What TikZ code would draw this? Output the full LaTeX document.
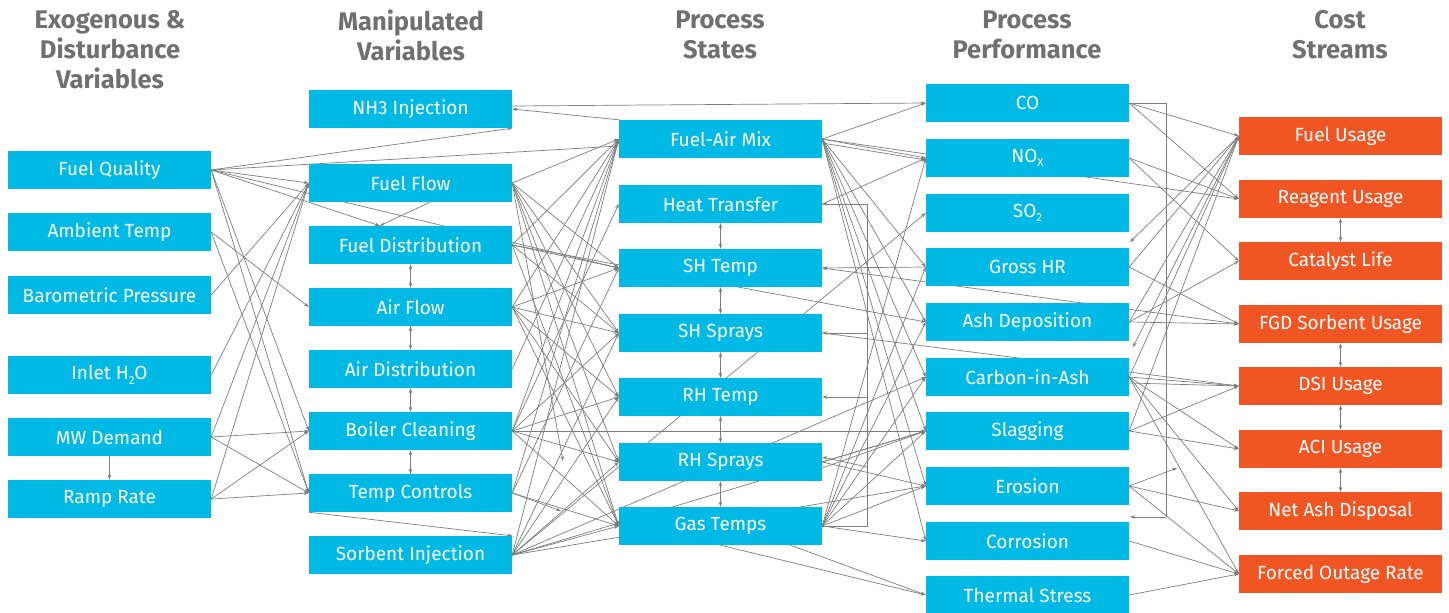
\documentclass[tikz,border=0pt]{standalone}
\usepackage{fontspec}
\setmainfont{Fira Sans}
\usetikzlibrary{arrows.meta,calc}
\definecolor{boxcyan}{RGB}{0,185,228}
\definecolor{boxorange}{RGB}{240,86,36}
\definecolor{headgray}{RGB}{112,112,112}
\definecolor{linegray}{RGB}{125,125,125}
\newcommand{\lowsub}[1]{\raisebox{-0.45ex}{\fontsize{11.5}{11.5}\selectfont #1}}
\begin{document}
\begin{tikzpicture}[x=1pt,y=-1pt,
  box/.style={fill=boxcyan,text=white,minimum width=203pt,minimum height=38pt,inner sep=0pt,font=\fontsize{19}{21}\selectfont},
  cbox/.style={box,fill=boxorange},
  head/.style={text=headgray,font=\fontsize{25.5}{30}\selectfont\bfseries,align=center},
  e/.style={draw=linegray,line width=0.7pt,-{Stealth[length=5pt,width=3.5pt]}},
  ee/.style={draw=linegray,line width=0.7pt,{Stealth[length=5pt,width=3.5pt]}-{Stealth[length=5pt,width=3.5pt]}},
  ln/.style={draw=linegray,line width=0.7pt}]
\useasboundingbox (0,0) rectangle (1449,613);
% headers
\node[head] (h1) at (110,50) {Exogenous \&\\Disturbance\\Variables};
\node[head] (h2) at (411,35) {Manipulated\\Variables};
\node[head] (h3) at (720,35) {Process\\States};
\node[head] (h4) at (1027,35) {Process\\Performance};
\node[head] (h5) at (1340,35) {Cost\\Streams};
% box positions (texts drawn later, on top of the connectors)
\begin{scope}[every node/.style={box}]
\path node (fq) at (109.5,170) {} node (at) at (109.5,232) {} node (bp) at (109.5,295) {}
 node (ih) at (109.5,375) {} node (mw) at (109.5,437) {} node (rr) at (109.5,499) {};
\path node (nh3) at (410.5,109) {} node (ff) at (410.5,183) {} node (fd) at (410.5,245) {}
 node (af) at (410.5,307) {} node (ad) at (410.5,369) {} node (bc) at (410.5,431) {}
 node (tc) at (410.5,493) {} node (si) at (410.5,555) {};
\path node (fam) at (720.5,139) {} node (ht) at (720.5,204) {} node (sht) at (720.5,268) {}
 node (shs) at (720.5,333) {} node (rht) at (720.5,397) {} node (rhs) at (720.5,462) {}
 node (gt) at (720.5,526) {};
\path node (co) at (1027.5,103) {} node (nox) at (1027.5,158) {} node (so2) at (1027.5,213) {}
 node (ghr) at (1027.5,267) {} node (ash) at (1027.5,322) {} node (cia) at (1027.5,377) {}
 node (slag) at (1027.5,431) {} node (ero) at (1027.5,486) {} node (cor) at (1027.5,541) {}
 node (ts) at (1027.5,595) {};
\path node (fu) at (1340.5,136) {} node (ru) at (1340.5,199) {} node (cl) at (1340.5,261) {}
 node (fgd) at (1340.5,324) {} node (dsi) at (1340.5,386) {} node (aci) at (1340.5,449) {}
 node (nad) at (1340.5,511) {} node (for) at (1340.5,574) {};
\end{scope}
\coordinate (s1) at (1130,242);
\coordinate (s2) at (1133,347);
\coordinate (s3) at (1177,468);
\coordinate (s4) at (1130,517);
\coordinate (s5) at (563,461);
\coordinate (s6) at (561,511);
\coordinate (b1) at (867,526);
\coordinate (b2) at (867,204);
\coordinate (c1) at (1166,103);
\coordinate (c2) at (1166,517);
% ---------- column 1 -> 2
\draw[e] (fq.east) -- (ff.west);
\draw[e] (fq.east) -- (nh3.south east);
\draw[e] (fq.east) -- ([yshift=-7pt]fam.west);
\draw[e] (fq.east) -- ([xshift=71pt]fd.north west);
\draw[e] (fq.east) -- (sht.west);
\draw[e] (fq.east) -- (bc.west);
\draw[e] (fq.east) -- (tc.west);
\draw[e] (at.east) -- (af.west);
\draw[e] (at.east) -- (tc.west);
\draw[e] (bp.east) -- (ff.west);
\draw[e] (ih.east) -- (ff.west);
\draw[e] (mw.east) -- (ff.west);
\draw[e] (mw.east) -- (bc.west);
\draw[e] (mw.east) -- (tc.west);
\draw[e] (mw.south) -- (rr.north);
\draw[e] (rr.east) -- (ff.west);
\draw[e] (rr.east) -- (bc.west);
\draw[e] (rr.east) -- (tc.west);
% ---------- column 2 internal
\draw[e] ([xshift=121pt]ff.south west) -- ([xshift=71pt]fd.north west);
\draw[ee] (fd.south) -- (af.north);
\draw[ee] (af.south) -- (ad.north);
\draw[ee] (ad.south) -- (bc.north);
\draw[ee] (bc.south) -- (tc.north);
\draw[e] (tc.south west) -- (si.north east);
\draw[e] (fam.north west) -- (nh3.east);
\draw[e] ([yshift=3pt]nh3.east) -- (co.west);
% ---------- column 2 -> 3
\foreach \t in {fam,sht,shs,rht,rhs,gt} \draw[e] (ff.east) -- (\t.west);
\draw[e] (ff.east) -- (s5);
\foreach \t in {fam,sht,shs,gt} \draw[e] (fd.east) -- (\t.west);
\draw[e] (fd.east) -- (ash.west);
\foreach \t in {fam,sht,shs,rht,rhs,gt} \draw[e] (af.east) -- (\t.west);
\draw[e] (ad.east) -- (fam.west);
\foreach \t in {fam,ht,shs,rht,rhs,gt,slag} \draw[e] (bc.east) -- (\t.west);
\foreach \t in {fam,sht,gt} \draw[e] (tc.east) -- (\t.west);
\draw[e] (tc.east) -- (s6);
\foreach \t in {fam,shs,rht,rhs,gt,so2,cia,slag,ero} \draw[e] (si.east) -- (\t.west);
% ---------- column 3 internal
\draw[ee] (ht.south) -- (sht.north);
\draw[ee] (sht.south) -- (shs.north);
\draw[ee] (shs.south) -- (rht.north);
\draw[ee] (rht.south) -- (rhs.north);
\draw[ee] (rhs.south) -- (gt.north);
\draw[ln] (gt.east) -- (b1) -- (b2);
\draw[e] (b2) -- (ht.east);
\draw[e] (b2 |- shs.east) -- (shs.east);
\draw[e] (b2 |- rht.east) -- (rht.east);
\draw[e] ($(b2 |- rhs.east)+(0,5)$) -- ([yshift=5pt]rhs.east);
% ---------- column 3 -> 4
\foreach \t in {co,nox,ghr,ash,cia,slag,ero,cor} \draw[e] (fam.east) -- (\t.west);
\draw[e] ([yshift=-4pt]fam.east) -- ([yshift=-2pt]nox.west);
\draw[e] (fam.east) -- (ru.west);
\draw[e] (ht.east) -- (nox.west);
\draw[ee] (sht.east) -- (fgd.west);
\draw[e] (ghr.west) -- (sht.east);
\draw[e] (shs.east) -- (dsi.west);
\draw[e] ([yshift=-6pt]rhs.east) -- (slag.west);
\draw[e] (rhs.east) -- (slag.west);
\draw[e] (rhs.east) -- (ero.west);
\foreach \t in {nox,ghr,ash,cia,slag,ero,cor} \draw[e] (gt.east) -- (\t.west);
\draw[e] (gt.south) -- (ts.west);
\draw[e] ([xshift=70pt]gt.south) -- (ts.west);
% ---------- column 4 -> 5
\draw[e] (co.east) -- (fu.west);
\draw[e] (co.east) -- (ru.west);
\draw[ln] (co.east) -- (c1) -- (c2);
\draw[e] (c2) -- (s4);
\draw[e] (nox.east) -- (ru.west);
\draw[e] (nox.east) -- (cl.west);
\draw[e] (ghr.east) -- (fu.west);
\draw[e] (ghr.east) -- (fgd.west);
\foreach \t in {fu,cl,fgd} \draw[e] (ash.east) -- (\t.west);
\foreach \t in {fu,dsi,aci,nad,for} \draw[e] (cia.east) -- (\t.west);
\draw[e] ([yshift=-6pt]cia.east) -- (dsi.west);
\foreach \t in {fu,dsi,aci} \draw[e] (slag.east) -- (\t.west);
\draw[e] (ero.east) -- (s3);
\draw[e] (ero.east) -- (nad.west);
\draw[e] (ero.east) -- (for.west);
\draw[e] (cor.east) -- (for.west);
\draw[e] (ts.east) -- (for.west);
\draw[e] (fu.west) -- (s1);
\draw[e] (fu.west) -- (s2);
% ---------- column 5 internal
\draw[ee] (ru.south) -- (cl.north);
\draw[ee] (fgd.south) -- (dsi.north);
\draw[ee] (dsi.south) -- (aci.north);
\draw[ee] (aci.south) -- (nad.north);
% ---------- boxes on top
\begin{scope}[every node/.style={box}]
\node at (fq) {Fuel Quality};
\node at (at) {Ambient Temp};
\node at (bp) {Barometric Pressure};
\node at (ih) {Inlet H\lowsub{2}O};
\node at (mw) {MW Demand};
\node at (rr) {Ramp Rate};
\node at (nh3) {NH3 Injection};
\node at (ff) {Fuel Flow};
\node at (fd) {Fuel Distribution};
\node at (af) {Air Flow};
\node at (ad) {Air Distribution};
\node at (bc) {Boiler Cleaning};
\node at (tc) {Temp Controls};
\node at (si) {Sorbent Injection};
\node at (fam) {Fuel-Air Mix};
\node at (ht) {Heat Transfer};
\node at (sht) {SH Temp};
\node at (shs) {SH Sprays};
\node at (rht) {RH Temp};
\node at (rhs) {RH Sprays};
\node at (gt) {Gas Temps};
\node at (co) {CO};
\node at (nox) {NO\lowsub{X}};
\node at (so2) {SO\lowsub{2}};
\node at (ghr) {Gross HR};
\node at (ash) {Ash Deposition};
\node at (cia) {Carbon-in-Ash};
\node at (slag) {Slagging};
\node at (ero) {Erosion};
\node at (cor) {Corrosion};
\node at (ts) {Thermal Stress};
\end{scope}
\begin{scope}[every node/.style={cbox}]
\node at (fu) {Fuel Usage};
\node at (ru) {Reagent Usage};
\node at (cl) {Catalyst Life};
\node at (fgd) {FGD Sorbent Usage};
\node at (dsi) {DSI Usage};
\node at (aci) {ACI Usage};
\node at (nad) {Net Ash Disposal};
\node at (for) {Forced Outage Rate};
\end{scope}
\end{tikzpicture}
\end{document}
